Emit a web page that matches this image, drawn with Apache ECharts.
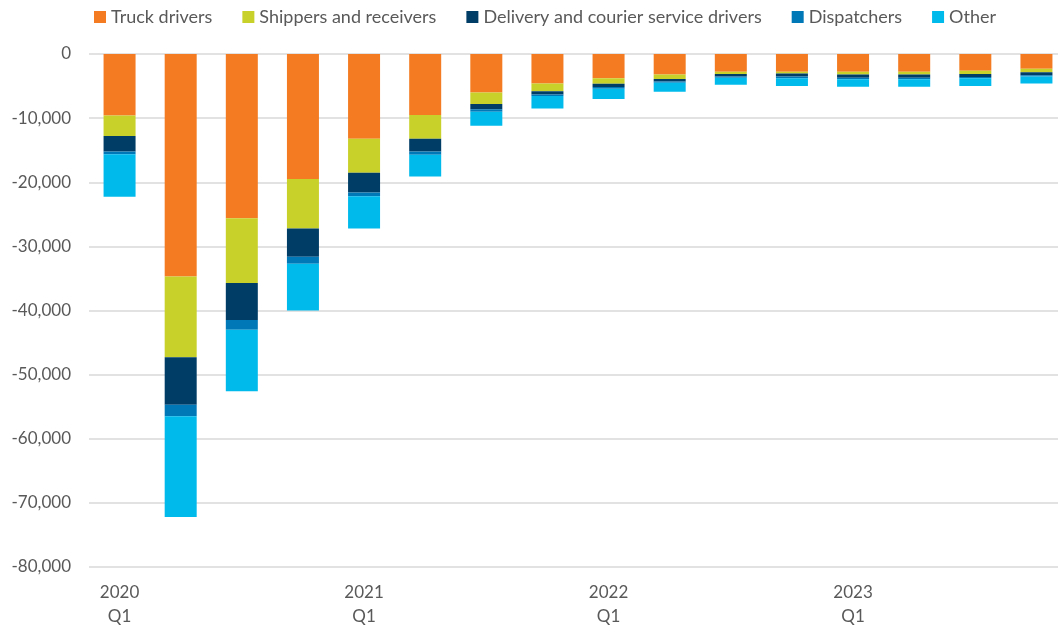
<!DOCTYPE html>
<html>
<head>
<meta charset="utf-8">
<script src="https://cdn.jsdelivr.net/npm/echarts@6/dist/echarts.min.js"></script>
<style>
html,body{margin:0;padding:0;background:#fff;}
#chart{width:1058px;height:625px;}
</style>
</head>
<body>
<div id="chart"></div>
<script>
const categories = ["2020 Q1","2020 Q2","2020 Q3","2020 Q4","2021 Q1","2021 Q2","2021 Q3","2021 Q4","2022 Q1","2022 Q2","2022 Q3","2022 Q4","2023 Q1","2023 Q2","2023 Q3","2023 Q4"];
const seriesNames = ["Truck drivers","Shippers and receivers","Delivery and courier service drivers","Dispatchers","Other"];
const truckDrivers = [-9600,-34700,-25600,-19500,-13200,-9500,-6000,-4600,-3800,-3200,-2750,-2750,-2750,-2750,-2600,-2300];
const shippersReceivers = [-3200,-12600,-10100,-7700,-5300,-3700,-1800,-1200,-850,-700,-350,-300,-450,-450,-500,-550];
const deliveryDrivers = [-2400,-7400,-5800,-4400,-3100,-2000,-800,-500,-500,-400,-400,-450,-500,-500,-500,-450];
const dispatchers = [-450,-1800,-1500,-1100,-600,-500,-400,-250,-250,-200,-200,-300,-250,-250,-200,-200];
const other = [-6600,-15700,-9600,-7300,-5000,-3400,-2200,-1950,-1600,-1400,-1100,-1200,-1150,-1150,-1200,-1100];
const colors = ["#F47B22","#C8D02A","#003D66","#0077B6","#00BAEC"];
const yMin = -80000, yMax = 0, yInterval = 10000;

const values = [truckDrivers, shippersReceivers, deliveryDrivers, dispatchers, other];
const font = "Lato, 'Liberation Sans', sans-serif";

const chart = echarts.init(document.getElementById('chart'));
chart.setOption({
  animation: false,
  color: colors,
  textStyle: { fontFamily: font },
  legend: {
    left: 89, top: 3,
    icon: 'rect', itemWidth: 12, itemHeight: 12, itemGap: 30,
    textStyle: { fontSize: 18, color: '#595959', fontFamily: font },
    data: seriesNames
  },
  grid: { left: 89, top: 54, width: 978, height: 513, containLabel: false, outerBoundsMode: 'none' },
  xAxis: {
    type: 'category',
    data: categories,
    position: 'bottom',
    axisLine: { show: false, onZero: false },
    axisTick: { show: false },
    axisLabel: {
      interval: 3,
      margin: 14,
      fontSize: 17,
      lineHeight: 24,
      color: '#595959',
      fontFamily: font,
      formatter: v => v.replace(' ', '\n')
    }
  },
  yAxis: {
    type: 'value',
    min: yMin, max: yMax, interval: yInterval,
    axisLine: { show: false },
    axisTick: { show: false },
    splitLine: { lineStyle: { color: '#D9D9D9', width: 1.5 } },
    axisLabel: {
      margin: 18, fontSize: 17, color: '#595959', fontFamily: font,
      formatter: v => v.toLocaleString('en-US')
    }
  },
  series: seriesNames.map((name, i) => ({
    name: name,
    type: 'bar',
    stack: 'total',
    barWidth: 32,
    data: values[i],
    itemStyle: { color: colors[i] }
  }))
});
</script>
</body>
</html>
